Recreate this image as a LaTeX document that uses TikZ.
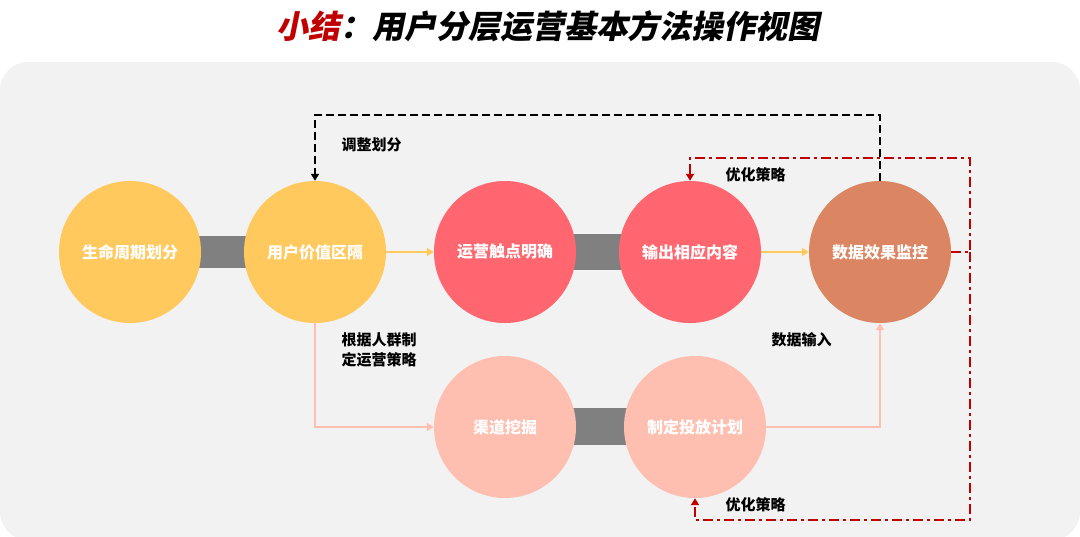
\documentclass[tikz,border=0pt]{standalone}
\usepackage{fontspec}
\setmainfont{Noto Sans CJK SC}
\newfontfamily\titlefont[FakeSlant=0.2]{Noto Sans CJK SC}
\usetikzlibrary{arrows.meta}
\definecolor{bgray}{HTML}{F2F2F2}
\definecolor{cyel}{HTML}{FFC95E}
\definecolor{cred}{HTML}{FF6670}
\definecolor{cbrn}{HTML}{DB8562}
\definecolor{cpnk}{HTML}{FFBFB0}
\definecolor{dred}{HTML}{C00000}
\tikzset{
  stage/.style={circle, minimum size=142pt, inner sep=0pt, text=white, font=\bfseries\fontsize{16}{18}\selectfont},
  bar/.style={fill=gray!75!black!80},
  lab/.style={font=\bfseries\fontsize{15}{20}\selectfont, align=left},
  flow/.style={line width=2.5pt, -{Triangle[length=7pt,width=8pt]}},
}
\begin{document}
\begin{tikzpicture}[x=1pt, y=-1pt]
    \useasboundingbox (0,0) rectangle (1080,536);
    \fill[bgray, rounded corners=28pt] (0,62) rectangle (1080,540);
    % title
    \node (title) at (548,26) {\titlefont\bfseries\fontsize{32}{36}\selectfont\textcolor{dred}{小结}：用户分层运营基本方法操作视图};

    % gray links
    \fill[bar] (190,236) rectangle (255,268);
    \fill[bar] (565,234) rectangle (630,270);
    \fill[bar] (565,408) rectangle (635,445);

    % stages
    \node[stage, fill=cyel] (life) at (130,252) {生命周期划分};
    \node[stage, fill=cyel] (value) at (315,252) {用户价值区隔};
    \node[stage, fill=cred] (touch) at (505,252) {运营触点明确};
    \node[stage, fill=cred] (output) at (690,252) {输出相应内容};
    \node[stage, fill=cbrn] (monitor) at (880,252) {数据效果监控};
    \node[stage, fill=cpnk] (channel) at (505,427) {渠道挖掘};
    \node[stage, fill=cpnk] (plan) at (695,427) {制定投放计划};

    % connectors
    \draw[flow, cyel] (value) -- (touch);
    \draw[flow, cyel] (output) -- (monitor);
    \draw[flow, cpnk] (value.south) |- (channel.west);
    \draw[flow, cpnk] (plan.east) -| (monitor.south);
    \draw[flow, black, dash pattern=on 8pt off 4pt] (monitor.north) |- (600,115) -| (value.north);
    \coordinate (loop) at (970,252);
    \draw[flow, dred, dash pattern=on 10pt off 4pt on 3pt off 4pt] (monitor.east) -- (loop) |- (800,158) -| (output.north);
    \draw[flow, dred, dash pattern=on 10pt off 4pt on 3pt off 4pt] (loop) |- (800,520) -| (plan.south);

    % labels
    \node[lab, anchor=west] (adjust) at (338,145) {调整划分};
    \node[lab, anchor=west] (group) at (338,350) {根据人群制\\定运营策略};
    \node[lab, anchor=west] (opt1) at (722,175) {优化策略};
    \node[lab, anchor=west] (opt2) at (722,505) {优化策略};
    \node[lab, anchor=west] (input) at (768,340) {数据输入};
\end{tikzpicture}
\end{document}
